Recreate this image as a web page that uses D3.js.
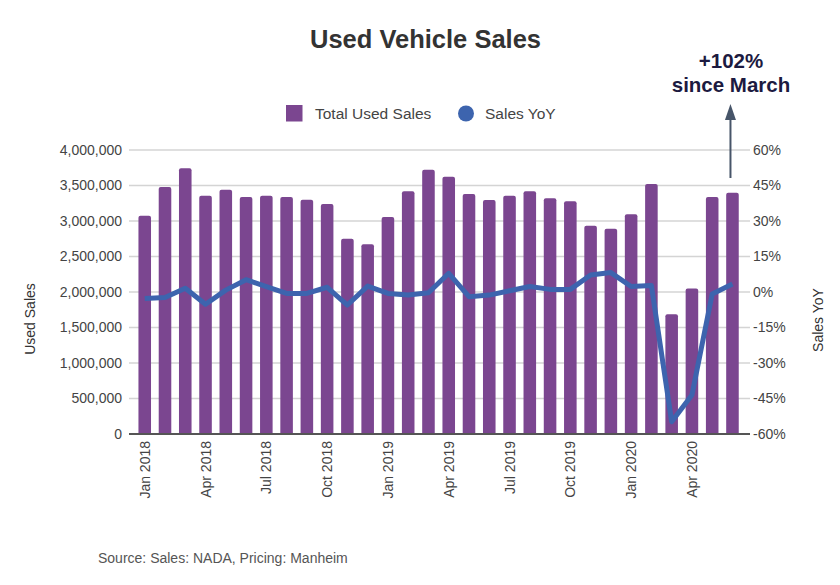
<!DOCTYPE html>
<html>
<head>
<meta charset="utf-8">
<script src="https://cdn.jsdelivr.net/npm/d3@7"></script>
<style>
  body { margin: 0; background: #fff; }
  svg { display: block; font-family: "Liberation Sans", Arial, sans-serif; }
</style>
</head>
<body>
<svg id="chart" width="840" height="585"></svg>
<script>
const months = ["Jan 2018","Feb 2018","Mar 2018","Apr 2018","May 2018","Jun 2018","Jul 2018","Aug 2018","Sep 2018","Oct 2018","Nov 2018","Dec 2018",
  "Jan 2019","Feb 2019","Mar 2019","Apr 2019","May 2019","Jun 2019","Jul 2019","Aug 2019","Sep 2019","Oct 2019","Nov 2019","Dec 2019",
  "Jan 2020","Feb 2020","Mar 2020","Apr 2020","May 2020","Jun 2020"];
const totalUsedSales = [3075000,3479000,3742000,3357000,3441000,3338000,3357000,3338000,3300000,3239000,2751000,2671000,
  3056000,3418000,3723000,3624000,3380000,3296000,3357000,3418000,3319000,3277000,2934000,2892000,
  3094000,3521000,1686000,2049000,3338000,3399000];
const salesYoY = [-2.7,-2.3,1.6,-5.2,0.8,5.2,2.3,-0.6,-0.6,2.0,-5.5,2.5,
  -0.6,-1.3,-0.3,7.9,-2.0,-1.3,0.5,2.3,1.1,1.1,7.2,8.2,
  2.3,2.7,-54.8,-43.5,-0.8,3.4];
const leftTicks = [0,500000,1000000,1500000,2000000,2500000,3000000,3500000,4000000];
const rightTicks = [-60,-45,-30,-15,0,15,30,45,60];
const xTickLabels = ["Jan 2018","Apr 2018","Jul 2018","Oct 2018","Jan 2019","Apr 2019","Jul 2019","Oct 2019","Jan 2020","Apr 2020"];

const svg = d3.select("#chart");
const plot = {left: 131, right: 745, top: 150, bottom: 434};
const FONT = "Liberation Sans, Arial, sans-serif";

const x = d3.scaleBand().domain(months).range([134.6, 742.6]).paddingInner(0.38).paddingOuter(0.19);
const yL = d3.scaleLinear().domain([0, 4000000]).range([plot.bottom, plot.top]);
const yR = d3.scaleLinear().domain([-60, 60]).range([plot.bottom, plot.top]);

// Title
svg.append("text").attr("x", 425.5).attr("y", 48).attr("text-anchor", "middle")
  .attr("font-size", 25.5).attr("font-weight", "bold").attr("fill", "#333").text("Used Vehicle Sales");

// Legend
svg.append("rect").attr("x", 286).attr("y", 105).attr("width", 16.5).attr("height", 16.5).attr("fill", "#7b4690");
svg.append("text").attr("x", 315).attr("y", 119).attr("font-size", 15.5).attr("fill", "#444").text("Total Used Sales");
svg.append("circle").attr("cx", 466).attr("cy", 113.5).attr("r", 8).attr("fill", "#3d64ae");
svg.append("text").attr("x", 485).attr("y", 119).attr("font-size", 15.5).attr("fill", "#444").text("Sales YoY");

// Gridlines
svg.append("g").selectAll("line").data(leftTicks.slice(1)).join("line")
  .attr("x1", 129).attr("x2", plot.right + 5)
  .attr("y1", d => yL(d)).attr("y2", d => yL(d))
  .attr("stroke", "#d4d4d4").attr("stroke-width", 1.5);

// Left axis
const axL = svg.append("g").attr("transform", `translate(${plot.left - 3},0)`)
  .call(d3.axisLeft(yL).tickValues(leftTicks).tickFormat(d3.format(",")).tickSize(0).tickPadding(6));
axL.select(".domain").remove();
axL.selectAll("text").attr("font-size", 14).attr("fill", "#444").attr("font-family", FONT);

// Right axis
const axR = svg.append("g").attr("transform", `translate(${plot.right + 5},0)`)
  .call(d3.axisRight(yR).tickValues(rightTicks).tickFormat(d => d + "%").tickSize(0).tickPadding(3));
axR.select(".domain").remove();
axR.selectAll("text").attr("font-size", 14).attr("fill", "#444").attr("font-family", FONT);

// Bars
svg.append("g").selectAll("path").data(months).join("path")
  .attr("fill", "#7b4690")
  .attr("d", (m, i) => {
    const x0 = x(m), w = x.bandwidth(), y0 = yL(totalUsedSales[i]), r = 2;
    return `M${x0},${plot.bottom}V${y0 + r}Q${x0},${y0} ${x0 + r},${y0}H${x0 + w - r}Q${x0 + w},${y0} ${x0 + w},${y0 + r}V${plot.bottom}Z`;
  });

// Bottom axis line
svg.append("line").attr("x1", 129).attr("x2", plot.right + 5).attr("y1", plot.bottom).attr("y2", plot.bottom)
  .attr("stroke", "#555").attr("stroke-width", 2);

// X labels
const axB = svg.append("g").attr("transform", `translate(0,${plot.bottom})`)
  .call(d3.axisBottom(x).tickValues(xTickLabels).tickSize(0).tickPadding(0));
axB.select(".domain").remove();
axB.selectAll("text")
  .attr("font-size", 14).attr("fill", "#444").attr("font-family", FONT)
  .attr("text-anchor", "end").attr("dy", null)
  .attr("transform", "translate(5,7) rotate(-90)");

// Line
const line = d3.line().x((d, i) => x(months[i]) + x.bandwidth() / 2).y(d => yR(d));
svg.append("path").datum(salesYoY).attr("d", line)
  .attr("fill", "none").attr("stroke", "#3d64ae").attr("stroke-width", 5).attr("stroke-linejoin", "round");

// Axis titles
svg.append("text").attr("transform", "translate(35,319) rotate(-90)").attr("text-anchor", "middle")
  .attr("font-size", 14).attr("fill", "#333").text("Used Sales");
svg.append("text").attr("transform", "translate(823,320) rotate(-90)").attr("text-anchor", "middle")
  .attr("font-size", 14).attr("fill", "#333").text("Sales YoY");

// Annotation
const ax = x(months[29]) + x.bandwidth() / 2 - 2;
svg.append("line").attr("x1", ax).attr("x2", ax).attr("y1", 178).attr("y2", 116)
  .attr("stroke", "#475569").attr("stroke-width", 2);
svg.append("path").attr("d", `M${ax},104L${ax - 5.5},120L${ax + 5.5},120Z`).attr("fill", "#475569");
svg.append("text").attr("x", 731).attr("y", 68).attr("text-anchor", "middle")
  .attr("font-size", 20.5).attr("font-weight", "bold").attr("fill", "#1c1a40").text("+102%");
svg.append("text").attr("x", 731).attr("y", 92).attr("text-anchor", "middle")
  .attr("font-size", 20.5).attr("font-weight", "bold").attr("fill", "#1c1a40").text("since March");

// Source
svg.append("text").attr("x", 98).attr("y", 563).attr("font-size", 14).attr("fill", "#555")
  .text("Source: Sales: NADA, Pricing: Manheim");
</script>
</body>
</html>
